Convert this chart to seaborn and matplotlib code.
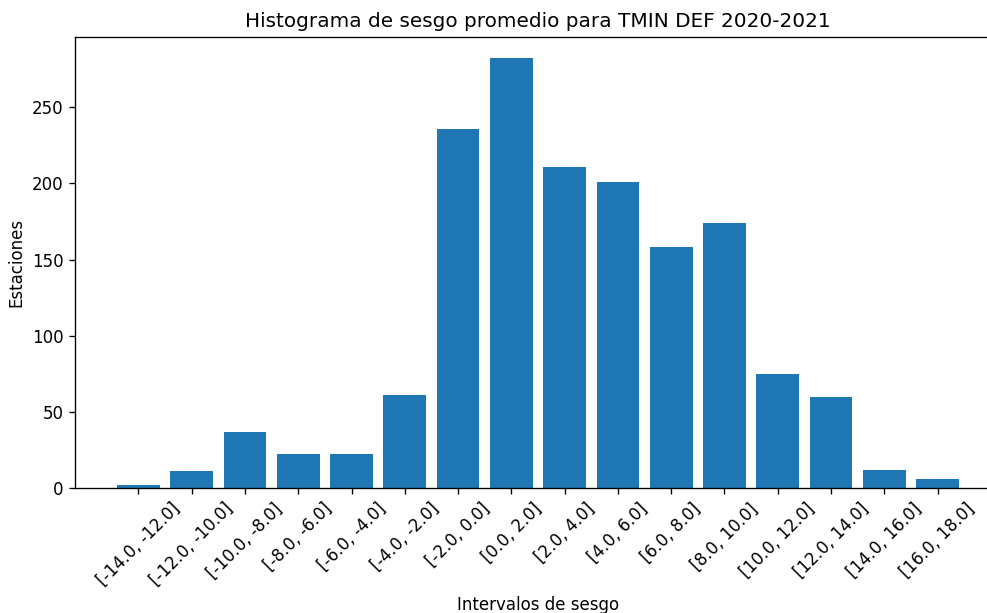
import matplotlib
matplotlib.use("Agg")
import matplotlib.pyplot as plt
import pandas as pd
import seaborn as sns

# Intervalos de sesgo y numero de estaciones
intervalos = ["[-14.0, -12.0]", "[-12.0, -10.0]", "[-10.0, -8.0]", "[-8.0, -6.0]",
              "[-6.0, -4.0]", "[-4.0, -2.0]", "[-2.0, 0.0]", "[0.0, 2.0]",
              "[2.0, 4.0]", "[4.0, 6.0]", "[6.0, 8.0]", "[8.0, 10.0]",
              "[10.0, 12.0]", "[12.0, 14.0]", "[14.0, 16.0]", "[16.0, 18.0]"]
estaciones = [2, 11, 37, 22, 22, 61, 236, 282, 211, 201, 158, 174, 75, 60, 12, 6]

datos = pd.DataFrame({"intervalo": intervalos, "estaciones": estaciones})

fig = plt.figure(figsize=(988 / 120, 613 / 120), dpi=120)
ax = fig.add_axes([75 / 988, 125 / 613, 926 / 988, 451 / 613])

sns.barplot(data=datos, x="intervalo", y="estaciones", color="#1f77b4",
            saturation=1, width=0.8, ax=ax)

# Margenes como en matplotlib por defecto
n = len(intervalos)
ax.set_xlim(-0.4 - 0.05 * (n - 0.2), n - 0.6 + 0.05 * (n - 0.2))
ax.set_ylim(0, max(estaciones) * 1.05)

# El borde derecho queda fuera de la imagen original
ax.spines["right"].set_visible(False)

ax.set_title("Histograma de sesgo promedio para TMIN DEF 2020-2021")
ax.set_xlabel("Intervalos de sesgo")
ax.set_ylabel("Estaciones")
plt.setp(ax.get_xticklabels(), rotation=45)

fig.savefig("out.png", dpi=120)
